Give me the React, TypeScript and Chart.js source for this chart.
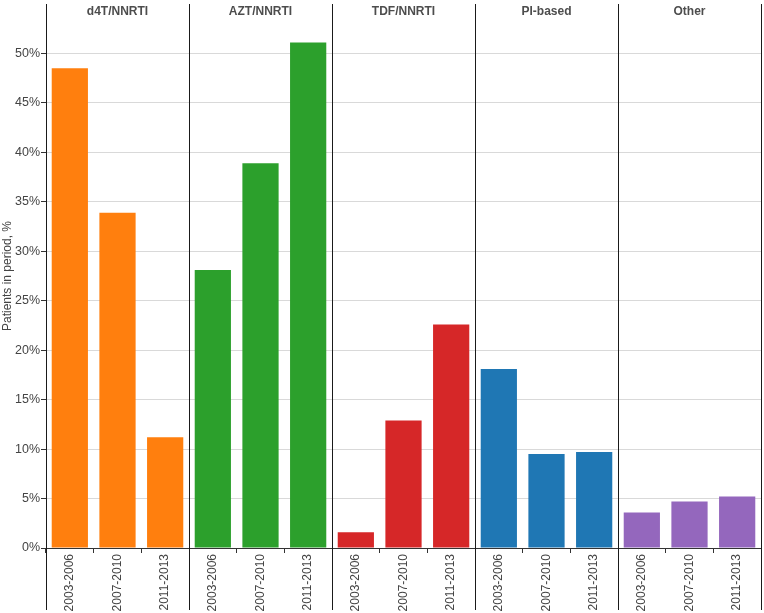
import React, { useEffect, useRef } from "react";
import { Chart, registerables } from "chart.js";

Chart.register(...registerables);

const groups = ["d4T/NNRTI", "AZT/NNRTI", "TDF/NNRTI", "PI-based", "Other"];
const periods = ["2003-2006", "2007-2010", "2011-2013"];
const groupColors = ["#ff7f0e", "#2ca02c", "#d62728", "#1f77b4", "#9467bd"];
const d4tValues = [48.5, 33.9, 11.2];
const aztValues = [28.1, 38.9, 51.1];
const tdfValues = [1.6, 12.9, 22.6];
const piValues = [18.1, 9.5, 9.7];
const otherValues = [3.6, 4.7, 5.2];
const yTicks = [0, 5, 10, 15, 20, 25, 30, 35, 40, 45, 50];
const yAxisTitle = "Patients in period, %";

const seriesByGroup = [d4tValues, aztValues, tdfValues, piValues, otherValues];

export default function App() {
  const ref = useRef<HTMLCanvasElement>(null);

  useEffect(() => {
    document.body.style.margin = "0";
    const canvas = ref.current;
    if (!canvas) return;

    const labels: string[] = [];
    const values: number[] = [];
    const colors: string[] = [];
    groups.forEach((g, gi) => {
      periods.forEach((p, pi) => {
        labels.push(p);
        values.push(seriesByGroup[gi][pi]);
        colors.push(groupColors[gi]);
      });
    });

    const panelPlugin = {
      id: "panels",
      afterDraw(chart: any) {
        const ctx = chart.ctx;
        const x = chart.scales.x;
        const area = chart.chartArea;
        ctx.save();
        ctx.strokeStyle = "#1a1a1a";
        ctx.lineWidth = 1;
        for (let g = 0; g <= groups.length; g++) {
          const px = Math.round(x.getPixelForValue(g * periods.length - 0.5)) + 0.5;
          ctx.beginPath();
          ctx.moveTo(px, area.top);
          ctx.lineTo(px, chart.height - 3);
          ctx.stroke();
        }
        ctx.fillStyle = "#4d4d4d";
        ctx.font = "bold 12px 'Liberation Sans', Arial, sans-serif";
        ctx.textAlign = "center";
        ctx.textBaseline = "middle";
        groups.forEach((g, gi) => {
          const cx = x.getPixelForValue(gi * periods.length + 1);
          ctx.fillText(g, cx, area.top + 8);
        });
        ctx.restore();
      },
    };

    const chart = new Chart(canvas, {
      type: "bar",
      data: {
        labels,
        datasets: [
          {
            data: values,
            backgroundColor: colors,
            borderWidth: 0,
            barPercentage: 0.76,
            categoryPercentage: 1,
          },
        ],
      },
      options: {
        responsive: false,
        animation: false,
        layout: { padding: { top: 4, right: 3, left: 0, bottom: 0 } },
        plugins: {
          legend: { display: false },
          tooltip: { enabled: false },
        },
        scales: {
          x: {
            type: "category",
            offset: true,
            grid: {
              offset: true,
              drawOnChartArea: false,
              drawTicks: true,
              tickLength: 5,
              color: "#333333",
              tickColor: "#333333",
            },
            border: { display: true, color: "#333333", width: 1 },
            ticks: {
              minRotation: 90,
              maxRotation: 90,
              autoSkip: false,
              color: "#444444",
              padding: 1,
              font: { size: 12, family: "'Liberation Sans', Arial, sans-serif" },
            },
            afterFit: (scale: any) => {
              scale.height = 65;
              scale.paddingLeft = 0;
              scale.paddingRight = 0;
            },
          },
          y: {
            min: 0,
            max: 55,
            afterBuildTicks: (scale: any) => {
              scale.ticks = yTicks.map((v) => ({ value: v }));
            },
            ticks: {
              color: "#444444",
              padding: 1,
              font: { size: 12.5, family: "'Liberation Sans', Arial, sans-serif" },
              callback: (v: any) => v + "%",
            },
            grid: {
              color: "#d9d9d9",
              tickColor: "#333333",
              tickLength: 5,
              lineWidth: 1,
            },
            border: { display: true, color: "#333333", width: 1 },
            title: {
              display: true,
              text: yAxisTitle,
              color: "#444444",
              padding: { top: 0, bottom: 0 },
              font: { size: 12, family: "'Liberation Sans', Arial, sans-serif" },
            },
            afterFit: (scale: any) => {
              scale.width = 46;
              scale.paddingTop = 0;
              scale.paddingBottom = 0;
            },
          },
        },
      },
      plugins: [panelPlugin],
    });

    return () => chart.destroy();
  }, []);

  return (
    <div style={{ position: "fixed", left: 0, top: 0, width: 764, height: 613 }}>
      <canvas ref={ref} width={764} height={613} />
    </div>
  );
}
